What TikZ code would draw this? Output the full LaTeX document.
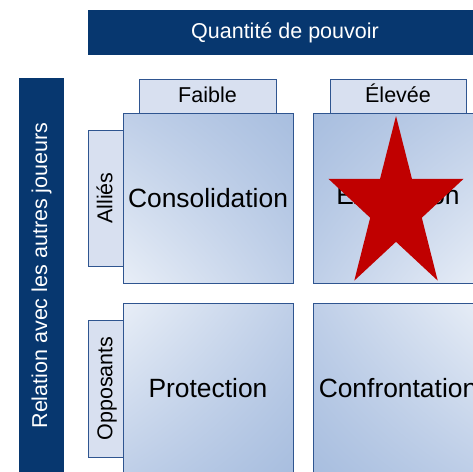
\documentclass[tikz,border=0pt]{standalone}
\usepackage{fontspec}
\setmainfont{Liberation Sans}
\usetikzlibrary{shadings}
\definecolor{navy}{HTML}{07376F}
\definecolor{tabfill}{HTML}{D8E0F0}
\definecolor{edgeblue}{HTML}{2F5590}
\definecolor{quaddark}{HTML}{A8BEDF}
\definecolor{quadmid}{HTML}{BFCFE8}
\definecolor{quadlight}{HTML}{E8EEF7}
\definecolor{starred}{HTML}{C00000}
\tikzset{
  banner/.style={fill=navy, text=white, inner sep=0pt, text height=15.5pt, text depth=4.5pt, font=\fontsize{21.5}{24}\selectfont},
  tabbox/.style={draw=edgeblue, fill=tabfill, line width=0.8pt, inner sep=0pt, text height=16pt, text depth=2.5pt, font=\fontsize{21.5}{24}\selectfont},
  quad/.style={draw=edgeblue, line width=0.8pt, minimum width=170pt, minimum height=170pt, inner sep=0pt, font=\fontsize{26.4}{30}\selectfont},
}
\begin{document}
\begin{tikzpicture}[x=1pt,y=-1pt]
                \useasboundingbox (0,0) rectangle (473,471) ;
                \clip (0,0) rectangle (473,471) ;
                % headings
                \node [banner, minimum width=394pt, minimum height=45pt] (power) at (285,32.5) {Quantité de pouvoir} ;
                \node [banner, minimum width=395pt, minimum height=45pt, rotate=90] (relation) at (41.5,275.5) {Relation avec les autres joueurs} ;
                \node [tabbox, minimum width=137pt, minimum height=34pt] (low) at (207.5,96) {Faible} ;
                \node [tabbox, minimum width=136pt, minimum height=34pt] (high) at (398,96) {Élevée} ;
                \node [tabbox, minimum width=136pt, minimum height=35pt, rotate=90] (allies) at (105.5,198) {Alliés} ;
                \node [tabbox, minimum width=137pt, minimum height=35pt, rotate=90] (opponents) at (105.5,388.5) {Opposants} ;
                % quadrants
                \node [quad, shading=bilinear interpolation, lower left=quadlight, upper left=quadmid, lower right=quadmid, upper right=quaddark] (consolidation) at (208,198) {Consolidation} ;
                \node [quad, shading=bilinear interpolation, lower left=quadmid, upper left=quaddark, lower right=quadlight, upper right=quadmid] (expansion) at (398,198) {Expansion} ;
                \node [quad, shading=bilinear interpolation, lower left=quadmid, upper left=quadlight, lower right=quaddark, upper right=quadmid] (protection) at (208,388) {Protection} ;
                \node [quad, shading=bilinear interpolation, lower left=quaddark, upper left=quadmid, lower right=quadmid, upper right=quadlight] (confrontation) at (398,388) {Confrontation} ;
                % star
                \begin{scope}[shift={(396,207)}, xscale=0.78]
                \fill [starred] (-90:91) -- (-54:34.8) -- (-18:91) -- (18:34.8) -- (54:91) -- (90:34.8) -- (126:91) -- (162:34.8) -- (198:91) -- (234:34.8) -- cycle ;
                \end{scope}
            \end{tikzpicture}
\end{document}
